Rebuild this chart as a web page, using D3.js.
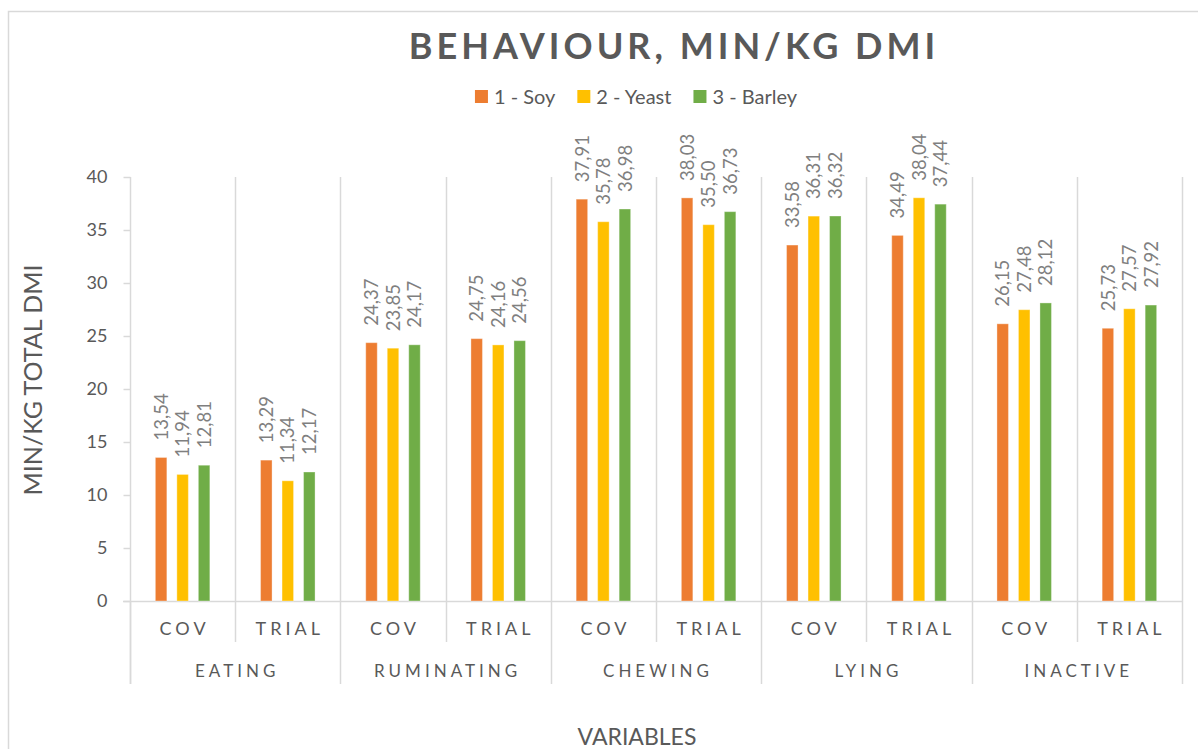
<!DOCTYPE html>
<html>
<head>
<meta charset="utf-8">
<script src="https://cdn.jsdelivr.net/npm/d3@7"></script>
<style>
  html, body { margin: 0; padding: 0; background: #fff; }
  svg { display: block; font-family: Lato, "Open Sans", sans-serif; }
</style>
</head>
<body>
<svg id="chart" width="1198" height="749"></svg>
<script>
// ---- data ----
const groups = ["EATING", "RUMINATING", "CHEWING", "LYING", "INACTIVE"];
const subCategories = ["COV", "TRIAL"];
const seriesNames = ["1 - Soy", "2 - Yeast", "3 - Barley"];
const seriesColors = ["#ED7D31", "#FFC000", "#70AD47"];
const soy    = [13.54, 13.29, 24.37, 24.75, 37.91, 38.03, 33.58, 34.49, 26.15, 25.73];
const yeast  = [11.94, 11.34, 23.85, 24.16, 35.78, 35.50, 36.31, 38.04, 27.48, 27.57];
const barley = [12.81, 12.17, 24.17, 24.56, 36.98, 36.73, 36.32, 37.44, 28.12, 27.92];
const yTicks = [0, 5, 10, 15, 20, 25, 30, 35, 40];
const chartTitle = "BEHAVIOUR, MIN/KG DMI";
const yTitle = "MIN/KG TOTAL DMI";
const xTitle = "VARIABLES";

// ---- build table ----
const seriesValues = [soy, yeast, barley];
const cats = [];
groups.forEach((g, gi) => subCategories.forEach((s, si) => cats.push({ key: g + "|" + s, group: g, sub: s, idx: gi * subCategories.length + si })));

const svg = d3.select("#chart");
const grid = "#D9D9D9";
const textCol = "#595959";

const pLeft = 130, pRight = 1182, pTop = 177, pBottom = 601;

const x0 = d3.scaleBand().domain(cats.map(d => d.key)).range([pLeft, pRight]).padding(0);
const x1 = d3.scaleBand().domain(seriesNames).range([0, x0.bandwidth()]).paddingInner(0.465).paddingOuter(1.179);
const y = d3.scaleLinear().domain([0, 40]).range([pBottom, pTop]);

// chart area border
svg.append("path").attr("d", `M8.5,749 V11.5 H1198`).attr("fill", "none").attr("stroke", grid).attr("stroke-width", 1.5);

// vertical gridlines at category boundaries
const bounds = cats.map(d => x0(d.key)).concat([pRight]);
svg.append("g").selectAll("line").data(bounds.slice(1)).join("line")
  .attr("x1", d => Math.round(d) + 0.5).attr("x2", d => Math.round(d) + 0.5)
  .attr("y1", pTop).attr("y2", pBottom)
  .attr("stroke", grid).attr("stroke-width", 1.5);

// y axis (ticks + labels)
const yAxis = svg.append("g").attr("transform", `translate(${pLeft + 0.5},0)`)
  .call(d3.axisLeft(y).tickValues(yTicks).tickSize(7).tickPadding(16));
yAxis.select(".domain").remove();
yAxis.selectAll(".tick line").attr("stroke", grid).attr("stroke-width", 1.5);
yAxis.selectAll(".tick text").attr("fill", textCol).style("font-size", "18px").style("font-family", "Lato, sans-serif");
svg.append("line").attr("x1", pLeft + 0.5).attr("x2", pLeft + 0.5).attr("y1", pTop).attr("y2", 684)
  .attr("stroke", grid).attr("stroke-width", 1.5);

// x axis line
svg.append("line").attr("x1", pLeft - 7).attr("x2", pRight + 1).attr("y1", pBottom + 0.5).attr("y2", pBottom + 0.5)
  .attr("stroke", grid).attr("stroke-width", 1.5);

// category tick marks below axis
svg.append("g").selectAll("line").data(bounds.map((b, i) => ({ b, i }))).join("line")
  .attr("x1", d => Math.round(d.b) + 0.5).attr("x2", d => Math.round(d.b) + 0.5)
  .attr("y1", pBottom)
  .attr("y2", d => (d.i % subCategories.length === 0) ? 684 : 642)
  .attr("stroke", grid).attr("stroke-width", 1.5);

// sub-category labels
svg.append("g").selectAll("text").data(cats).join("text")
  .attr("x", d => x0(d.key) + x0.bandwidth() / 2 + 2)
  .attr("y", 635)
  .attr("text-anchor", "middle")
  .attr("fill", textCol)
  .style("font-size", "18px")
  .style("letter-spacing", "4px")
  .text(d => d.sub);

// group labels
svg.append("g").selectAll("text").data(groups).join("text")
  .attr("x", (g, gi) => (x0(cats[gi * 2].key) + x0(cats[gi * 2 + 1].key) + x0.bandwidth()) / 2 + 2)
  .attr("y", 677)
  .attr("text-anchor", "middle")
  .attr("fill", textCol)
  .style("font-size", "17px")
  .style("letter-spacing", "4px")
  .text(g => g);

// bars
const barData = [];
cats.forEach(c => seriesNames.forEach((s, si) => barData.push({ cat: c, series: s, si, value: seriesValues[si][c.idx] })));

svg.append("g").selectAll("rect").data(barData).join("rect")
  .attr("x", d => x0(d.cat.key) + x1(d.series))
  .attr("y", d => y(d.value))
  .attr("width", x1.bandwidth())
  .attr("height", d => y(0) - y(d.value))
  .attr("fill", d => seriesColors[d.si])
  .attr("stroke", "#fff").attr("stroke-opacity", 0.35).attr("stroke-width", 1);

// data labels (rotated)
const fmt = v => d3.format(".2f")(v).replace(".", ",");
svg.append("g").selectAll("text").data(barData).join("text")
  .attr("transform", d => `translate(${x0(d.cat.key) + x1(d.series) + x1.bandwidth() / 2},${y(d.value) - 17}) rotate(-90)`)
  .attr("dy", "0.36em")
  .attr("text-anchor", "start")
  .attr("fill", "#7F7F7F")
  .style("font-size", "18.5px")
  .text(d => fmt(d.value));

// title
svg.append("text")
  .attr("x", 674).attr("y", 59)
  .attr("text-anchor", "middle")
  .attr("fill", textCol)
  .style("font-size", "36px")
  .style("font-weight", "bold")
  .style("letter-spacing", "4px")
  .text(chartTitle);

// legend
const legend = svg.append("g");
let lx = 0;
const itemGap = 22;
seriesNames.forEach((s, i) => {
  const g = legend.append("g").attr("transform", `translate(${lx},0)`);
  g.append("rect").attr("x", 0).attr("y", -14).attr("width", 13).attr("height", 13).attr("fill", seriesColors[i]);
  const t = g.append("text").attr("x", 19).attr("y", 0).attr("fill", textCol).style("font-size", "20px").text(s);
  lx += 19 + t.node().getComputedTextLength() + itemGap;
});
const legendW = lx - itemGap;
legend.attr("transform", `translate(${636 - legendW / 2},104)`);

// y axis title
svg.append("text")
  .attr("transform", `translate(42,380) rotate(-90)`)
  .attr("text-anchor", "middle")
  .attr("fill", textCol)
  .style("font-size", "25px")
  .text(yTitle);

// x axis title
svg.append("text")
  .attr("x", 637).attr("y", 745)
  .attr("text-anchor", "middle")
  .attr("fill", textCol)
  .style("font-size", "23px")
  .text(xTitle);
</script>
</body>
</html>
